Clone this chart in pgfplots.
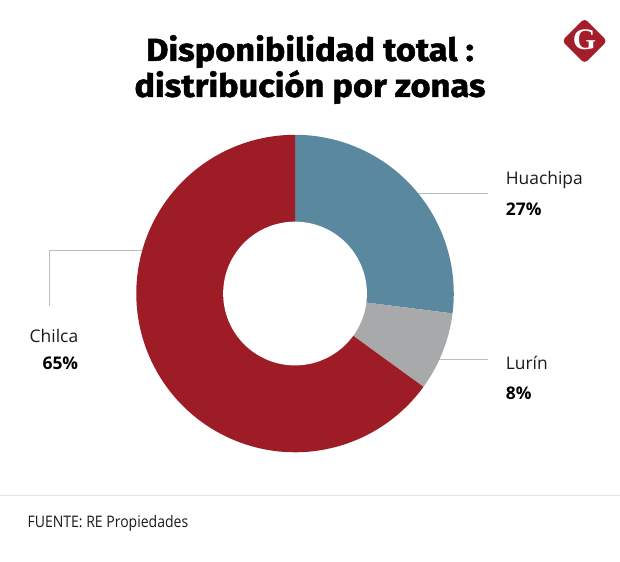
\documentclass[border=0pt]{standalone}
\usepackage{fontspec}
\setmainfont{Open Sans}
\newfontfamily\titlefont[FakeStretch=1.08, FakeBold=1.6]{Fira Sans}
\newfontfamily\logofont{Liberation Serif}
\newfontfamily\footfont[FakeStretch=0.88]{Open Sans}
\usepackage{pgfplots}
\pgfplotsset{compat=1.18}
\definecolor{cBlue}{HTML}{5A889F}
\definecolor{cGray}{HTML}{A8A9AB}
\definecolor{cRed}{HTML}{9D1C25}
\definecolor{cLine}{HTML}{BDBDBD}
\definecolor{cRule}{HTML}{E2E2E2}
\definecolor{cLogo}{HTML}{A31D2B}
\definecolor{cText}{HTML}{1A1A1A}
% values (percent)
\def\vHuachipa{27}
\def\vLurin{8}
\def\vChilca{65}
\begin{document}
\begin{tikzpicture}
\pgfmathsetmacro\aA{90-3.6*\vHuachipa}
\pgfmathsetmacro\aB{\aA-3.6*\vLurin}
\pgfmathsetmacro\aC{\aB-3.6*\vChilca}
\begin{axis}[
  width=620bp, height=562bp, scale only axis,
  xmin=0, xmax=620, ymin=0, ymax=562, y dir=reverse,
  hide axis, clip=false,
  trig format plots=deg,
]
\path (rel axis cs:0,0) rectangle (rel axis cs:1,1);
% leader lines
\addplot[cLine, line width=0.8pt] coordinates {(410,194) (488,194)};
\addplot[cLine, line width=0.8pt] coordinates {(430,360) (488,360)};
\addplot[cLine, line width=0.8pt] coordinates {(150,251) (49,251) (49,306)};
% donut wedges
\addplot[fill=cBlue, draw=none, domain=\aA:90, samples=80, variable=\t]
  ({295+159*cos(t)},{294-159*sin(t)}) -- (axis cs:295,294) -- cycle;
\addplot[fill=cGray, draw=none, domain=\aB:\aA, samples=30, variable=\t]
  ({295+159*cos(t)},{294-159*sin(t)}) -- (axis cs:295,294) -- cycle;
\addplot[fill=cRed, draw=none, domain=\aC:\aB, samples=160, variable=\t]
  ({295+159*cos(t)},{294-159*sin(t)}) -- (axis cs:295,294) -- cycle;
\addplot[fill=white, draw=none, domain=0:360, samples=120, variable=\t]
  ({295+72*cos(t)},{294-72*sin(t)}) -- cycle;
% title
\node[anchor=base, inner sep=0, text=black] at (axis cs:310,61)
  {\titlefont\bfseries\fontsize{32}{36}\selectfont Disponibilidad total :};
\node[anchor=base, inner sep=0, text=black] at (axis cs:310,97)
  {\titlefont\bfseries\fontsize{32}{36}\selectfont distribución por zonas};
% labels
\node[anchor=base west, inner sep=0, text=cText] at (axis cs:506,185)
  {\fontsize{17.5}{20}\selectfont Huachipa};
\node[anchor=base west, inner sep=0, text=black] at (axis cs:506,216)
  {\fontsize{17.5}{20}\selectfont\bfseries 27\%};
\node[anchor=base west, inner sep=0, text=cText] at (axis cs:506,370)
  {\fontsize{17.5}{20}\selectfont Lurín};
\node[anchor=base west, inner sep=0, text=black] at (axis cs:506,400)
  {\fontsize{17.5}{20}\selectfont\bfseries 8\%};
\node[anchor=base east, inner sep=0, text=cText] at (axis cs:78,343)
  {\fontsize{17.5}{20}\selectfont Chilca};
\node[anchor=base east, inner sep=0, text=black] at (axis cs:78,370)
  {\fontsize{17.5}{20}\selectfont\bfseries 65\%};
% footer
\addplot[cRule, line width=1pt] coordinates {(0,496) (620,496)};
\node[anchor=base west, inner sep=0, text=cText] at (axis cs:27,528)
  {\footfont\fontsize{16}{18}\selectfont FUENTE: RE Propiedades};
% logo
\node[fill=cLogo, rounded corners=4bp, minimum size=32bp, inner sep=0, rotate=45] at (axis cs:585,41) {};
\node[text=white, inner sep=0] at (axis cs:585,40)
  {\logofont\bfseries\fontsize{30}{30}\selectfont G};
\end{axis}
\end{tikzpicture}
\end{document}
